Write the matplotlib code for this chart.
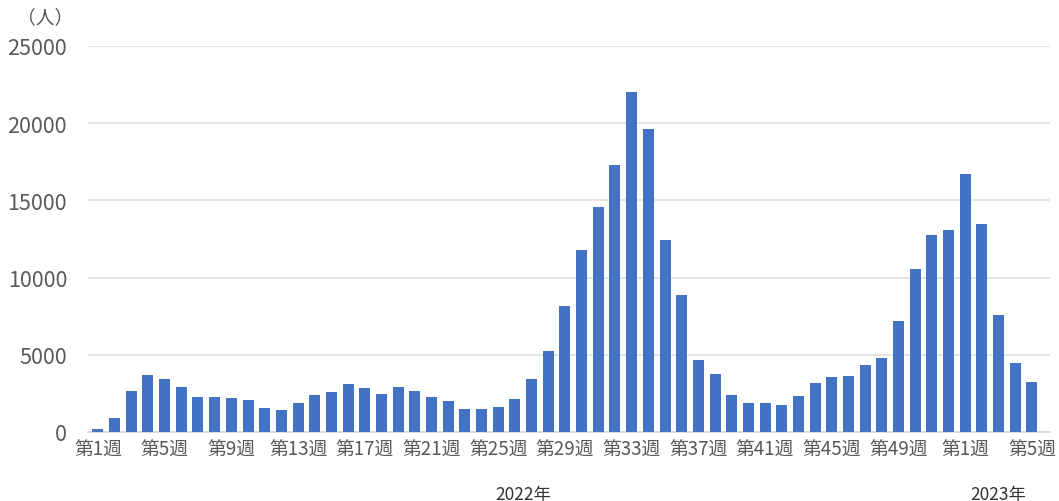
import matplotlib.pyplot as plt
import numpy as np

plt.rcParams['font.family'] = ['Noto Sans CJK JP', 'DejaVu Sans']

# weekly counts, 2022 week 1 .. 2023 week 5
values_2022 = [200, 930, 2680, 3710, 3450, 2900, 2270, 2270, 2200, 2050,
               1530, 1420, 1860, 2420, 2590, 3090, 2830, 2480, 2940, 2680,
               2270, 2010, 1490, 1490, 1600, 2160, 3450, 5250, 8150, 11800,
               14600, 17280, 22030, 19590, 12420, 8880, 4690, 3760, 2420, 1860,
               1860, 1750, 2310, 3200, 3560, 3650, 4340, 4770, 7170, 10540,
               12750, 13090]
values_2023 = [16700, 13460, 7560, 4450, 3260]

weeks_2022 = list(range(1, 53))
weeks_2023 = list(range(1, 6))
week_labels = [f"第{w}週" for w in weeks_2022 + weeks_2023]
values = values_2022 + values_2023
year_labels = ["2022年", "2023年"]

x = np.arange(len(values))

fig = plt.figure(figsize=(10.59, 5.02), dpi=100)
ax = fig.add_axes([0.083, 0.1375, 0.9085, 0.769])

ax.bar(x, values, width=0.66, color="#4472C4", zorder=3)

ax.set_ylim(0, 25000)
ax.set_yticks(range(0, 25001, 5000))
ax.set_xlim(-0.6, len(values) + 0.08)
ax.grid(axis="y", color="#E3E3E3", linewidth=1.3, zorder=0)

tick_pos = x[::4]
ax.set_xticks(tick_pos)
ax.set_xticklabels([week_labels[i] for i in tick_pos])

ax.tick_params(axis="y", length=0, labelsize=15.5, labelcolor="#595959", pad=15)
ax.tick_params(axis="x", length=0, labelsize=13.5, labelcolor="#595959", pad=5)

for s in ["top", "right", "left"]:
    ax.spines[s].set_visible(False)
ax.spines["bottom"].set_color("#D9D9D9")
ax.spines["bottom"].set_linewidth(1.3)

# year group labels under the week labels
n22 = len(values_2022)
centers = [(n22 - 1) / 2, n22 + (len(values_2023) - 1) / 2]
for c, lab in zip(centers, year_labels):
    ax.text(c, -0.16, lab, transform=ax.get_xaxis_transform(),
            ha="center", va="center", fontsize=12.5, color="#333333")

fig.text(0.043, 0.965, "（人）", ha="center", va="center",
         fontsize=13.5, color="#595959")

fig.savefig("out.png", dpi=100)
